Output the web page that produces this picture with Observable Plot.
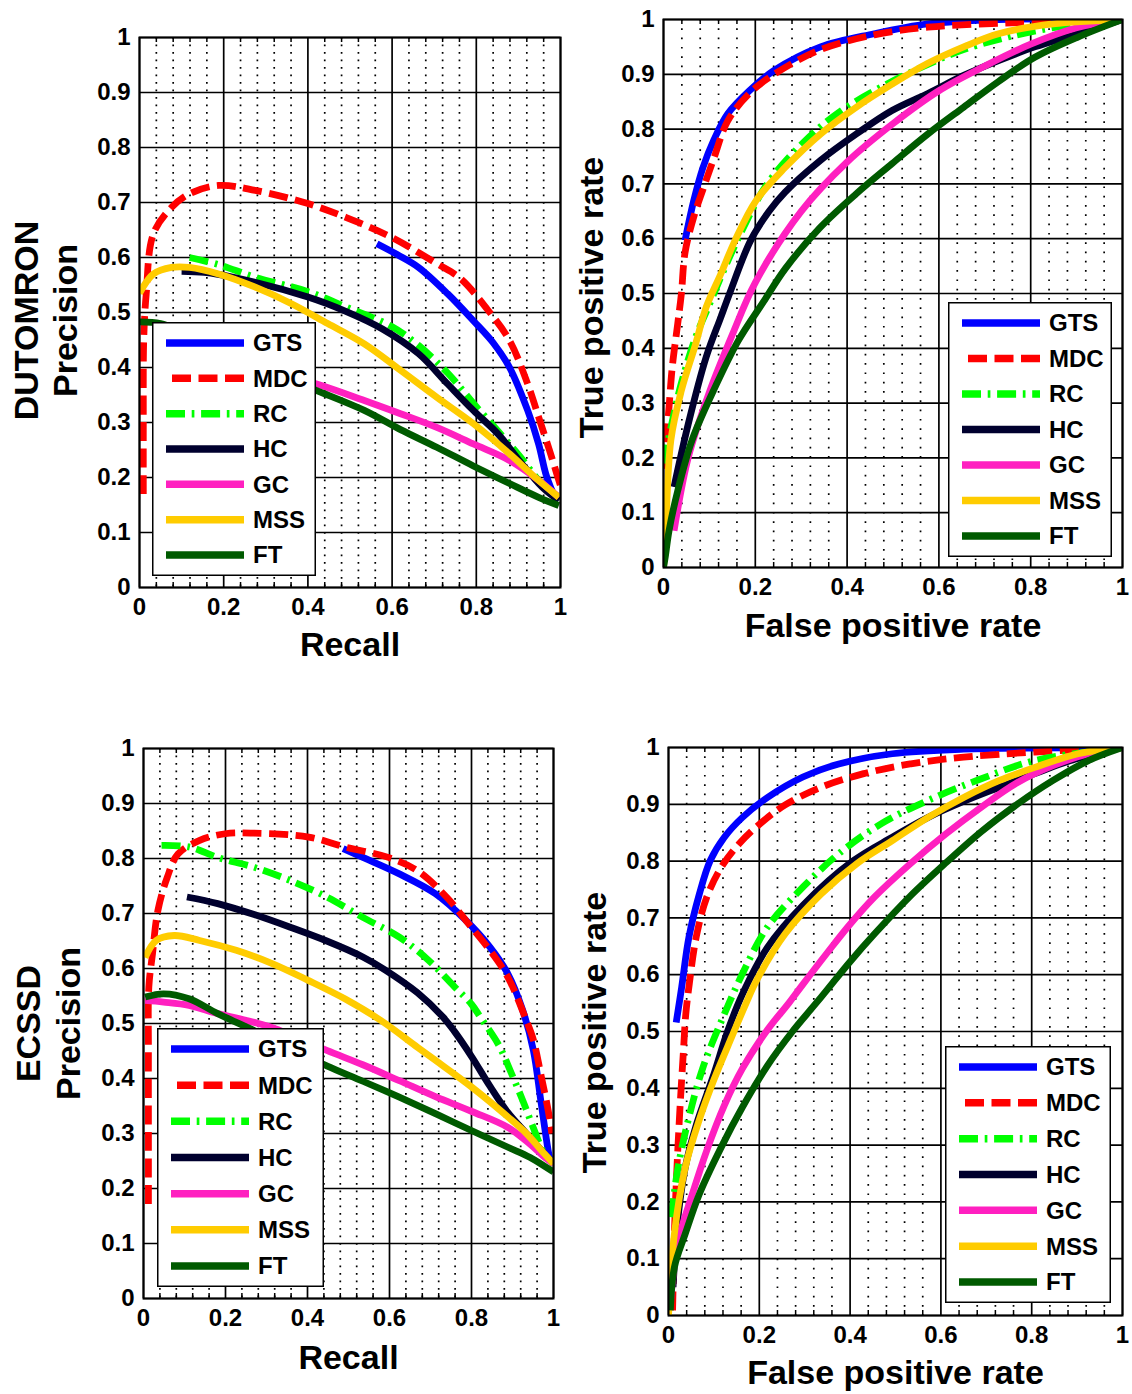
<!DOCTYPE html>
<html><head><meta charset="utf-8">
<script src="https://cdn.jsdelivr.net/npm/d3@7"></script>
<script src="https://cdn.jsdelivr.net/npm/@observablehq/plot@0.6"></script>
<style>
body{margin:0;background:#fff;}
#root{position:relative;width:1132px;height:1394px;overflow:hidden;background:#fff;font-family:"Liberation Sans",Arial,sans-serif;}
#root > svg{position:absolute;}
</style></head><body><div id="root"></div>
<script>
// ---------- categories & styles ----------
const methods = ["GTS","MDC","RC","HC","GC","MSS","FT"];
const colors  = ["#0000ff","#ff0000","#00ff00","#00002e","#ff20c0","#ffcc00","#005a00"];
const dashes  = [null,"19,7.5","19,6.7,2.7,6.7",null,null,null,null];

// ---------- tick values ----------
const xMajor = [0,0.2,0.4,0.6,0.8,1];
const yMajor = [0,0.1,0.2,0.3,0.4,0.5,0.6,0.7,0.8,0.9,1];
const xMinor = [0.04,0.08,0.12,0.16,0.24,0.28,0.32,0.36,0.44,0.48,0.52,0.56,0.64,0.68,0.72,0.76,0.84,0.88,0.92,0.96];

// ---------- DUTOMRON precision-recall [recall, precision] ----------
const dutPR_GTS = [[0.564,0.625],[0.613,0.605],[0.663,0.582],[0.732,0.534],[0.793,0.485],[0.84,0.445],[0.879,0.4],[0.922,0.322],[0.948,0.261],[0.965,0.207],[0.982,0.172]];
const dutPR_MDC = [[0.009,0.17],[0.009,0.3],[0.01,0.45],[0.016,0.534],[0.033,0.643],[0.076,0.691],[0.119,0.716],[0.188,0.731],[0.275,0.722],[0.4,0.698],[0.49,0.673],[0.598,0.637],[0.706,0.589],[0.762,0.562],[0.827,0.505],[0.879,0.449],[0.922,0.37],[0.948,0.31],[0.974,0.249],[0.991,0.207],[1.0,0.185]];
const dutPR_RC  = [[0.119,0.6],[0.188,0.587],[0.275,0.564],[0.4,0.538],[0.49,0.51],[0.598,0.475],[0.663,0.44],[0.732,0.39],[0.793,0.335],[0.853,0.283],[0.905,0.237],[0.948,0.195],[0.996,0.158]];
const dutPR_HC  = [[0.1,0.575],[0.154,0.573],[0.223,0.564],[0.4,0.528],[0.49,0.502],[0.577,0.47],[0.663,0.425],[0.732,0.37],[0.793,0.322],[0.853,0.278],[0.905,0.228],[0.957,0.182],[0.996,0.158]];
const dutPR_GC  = [[0.04,0.44],[0.1,0.43],[0.2,0.41],[0.3,0.395],[0.421,0.37],[0.534,0.34],[0.62,0.316],[0.706,0.291],[0.793,0.261],[0.879,0.231],[0.948,0.195],[0.996,0.164]];
const dutPR_MSS = [[0.0,0.535],[0.033,0.57],[0.076,0.582],[0.119,0.582],[0.188,0.57],[0.275,0.546],[0.361,0.516],[0.447,0.48],[0.534,0.443],[0.62,0.395],[0.706,0.346],[0.793,0.298],[0.879,0.243],[0.94,0.2],[0.996,0.164]];
const dutPR_FT  = [[0.0,0.483],[0.05,0.48],[0.1,0.465],[0.2,0.43],[0.3,0.395],[0.421,0.358],[0.534,0.322],[0.62,0.287],[0.706,0.255],[0.793,0.221],[0.879,0.189],[0.948,0.164],[0.996,0.149]];

// ---------- DUTOMRON ROC [fpr, tpr] ----------
const dutROC_GTS = [[0.047,0.597],[0.066,0.67],[0.086,0.73],[0.109,0.779],[0.14,0.828],[0.187,0.87],[0.241,0.907],[0.342,0.95],[0.459,0.974],[0.576,0.992],[0.73,1.0],[1.0,1.0]];
const dutROC_MDC = [[0.003,0.18],[0.006,0.232],[0.012,0.292],[0.019,0.365],[0.031,0.445],[0.039,0.5],[0.047,0.575],[0.066,0.64],[0.086,0.69],[0.109,0.745],[0.14,0.815],[0.187,0.865],[0.241,0.9],[0.342,0.945],[0.459,0.972],[0.576,0.986],[0.73,0.993],[1.0,1.0]];
const dutROC_RC  = [[0.0,0.19],[0.02,0.27],[0.04,0.34],[0.07,0.42],[0.1,0.48],[0.13,0.54],[0.171,0.615],[0.226,0.7],[0.304,0.775],[0.381,0.83],[0.482,0.88],[0.576,0.918],[0.654,0.945],[0.77,0.972],[0.887,0.99],[1.0,1.0]];
const dutROC_HC  = [[0.023,0.147],[0.054,0.262],[0.093,0.384],[0.125,0.457],[0.144,0.5],[0.19,0.597],[0.23,0.65],[0.265,0.685],[0.342,0.743],[0.42,0.791],[0.498,0.834],[0.576,0.865],[0.654,0.898],[0.73,0.925],[0.809,0.95],[0.903,0.974],[1.0,1.0]];
const dutROC_GC  = [[0.023,0.067],[0.054,0.201],[0.1,0.32],[0.15,0.425],[0.2,0.52],[0.3,0.65],[0.4,0.74],[0.5,0.81],[0.6,0.87],[0.7,0.915],[0.8,0.955],[0.9,0.985],[1.0,1.0]];
const dutROC_MSS = [[0.0,0.0],[0.004,0.05],[0.016,0.232],[0.039,0.323],[0.07,0.408],[0.093,0.475],[0.125,0.536],[0.156,0.597],[0.202,0.67],[0.265,0.73],[0.342,0.791],[0.42,0.84],[0.498,0.882],[0.576,0.92],[0.654,0.95],[0.73,0.974],[0.848,0.992],[1.0,1.0]];
const dutROC_FT  = [[0.0,0.0],[0.004,0.02],[0.012,0.067],[0.031,0.14],[0.062,0.232],[0.109,0.323],[0.163,0.414],[0.218,0.485],[0.265,0.545],[0.342,0.621],[0.42,0.682],[0.498,0.737],[0.576,0.791],[0.654,0.84],[0.73,0.887],[0.809,0.931],[0.903,0.968],[1.0,1.0]];

// ---------- ECSSD precision-recall ----------
const ecPR_GTS = [[0.487,0.818],[0.535,0.802],[0.624,0.772],[0.712,0.736],[0.783,0.69],[0.845,0.639],[0.889,0.59],[0.925,0.524],[0.951,0.451],[0.969,0.36],[0.987,0.269],[0.991,0.255]];
const ecPR_MDC = [[0.012,0.172],[0.012,0.3],[0.012,0.45],[0.013,0.566],[0.022,0.627],[0.035,0.705],[0.058,0.766],[0.084,0.808],[0.137,0.833],[0.199,0.845],[0.27,0.846],[0.403,0.839],[0.491,0.821],[0.597,0.802],[0.668,0.778],[0.739,0.73],[0.792,0.682],[0.845,0.633],[0.889,0.584],[0.934,0.505],[0.951,0.47],[0.969,0.408],[0.987,0.342],[0.996,0.3]];
const ecPR_RC  = [[0.044,0.824],[0.111,0.821],[0.181,0.802],[0.27,0.784],[0.358,0.76],[0.447,0.73],[0.535,0.693],[0.624,0.657],[0.695,0.615],[0.757,0.568],[0.8,0.535],[0.823,0.51],[0.867,0.46],[0.897,0.41],[0.925,0.36],[0.951,0.31],[0.978,0.263],[1.0,0.245]];
const ecPR_HC  = [[0.106,0.73],[0.181,0.718],[0.27,0.698],[0.358,0.675],[0.447,0.65],[0.535,0.621],[0.588,0.598],[0.668,0.556],[0.73,0.512],[0.757,0.487],[0.801,0.439],[0.845,0.386],[0.889,0.338],[0.934,0.3],[0.978,0.263],[1.0,0.245]];
const ecPR_GC  = [[0.004,0.542],[0.049,0.539],[0.111,0.533],[0.181,0.518],[0.27,0.502],[0.323,0.49],[0.447,0.451],[0.535,0.425],[0.624,0.396],[0.712,0.367],[0.801,0.34],[0.889,0.311],[0.942,0.281],[0.978,0.257],[1.0,0.245]];
const ecPR_MSS = [[0.004,0.62],[0.031,0.651],[0.075,0.66],[0.137,0.651],[0.226,0.633],[0.314,0.609],[0.403,0.578],[0.491,0.545],[0.58,0.505],[0.668,0.457],[0.712,0.433],[0.801,0.384],[0.889,0.33],[0.934,0.3],[0.978,0.263],[1.0,0.245]];
const ecPR_FT  = [[0.004,0.548],[0.049,0.554],[0.111,0.545],[0.181,0.518],[0.27,0.487],[0.358,0.455],[0.447,0.423],[0.535,0.395],[0.624,0.366],[0.712,0.336],[0.801,0.305],[0.889,0.275],[0.942,0.257],[1.0,0.23]];

// ---------- ECSSD ROC ----------
const ecROC_GTS = [[0.017,0.516],[0.029,0.578],[0.045,0.666],[0.068,0.742],[0.092,0.801],[0.123,0.842],[0.163,0.877],[0.218,0.912],[0.296,0.948],[0.375,0.971],[0.493,0.989],[0.65,0.997],[1.0,1.0]];
const ecROC_MDC = [[0.009,0.009],[0.013,0.144],[0.017,0.232],[0.025,0.361],[0.033,0.467],[0.038,0.53],[0.046,0.585],[0.061,0.666],[0.084,0.736],[0.116,0.789],[0.155,0.83],[0.202,0.866],[0.257,0.899],[0.336,0.93],[0.43,0.954],[0.532,0.971],[0.65,0.983],[0.807,0.992],[1.0,1.0]];
const ecROC_RC  = [[0.006,0.173],[0.021,0.261],[0.045,0.349],[0.076,0.437],[0.12,0.525],[0.163,0.602],[0.218,0.684],[0.296,0.754],[0.375,0.813],[0.469,0.866],[0.572,0.907],[0.689,0.945],[0.807,0.977],[1.0,1.0]];
const ecROC_HC  = [[0.01,0.05],[0.021,0.173],[0.037,0.261],[0.061,0.335],[0.1,0.425],[0.13,0.5],[0.163,0.566],[0.218,0.648],[0.296,0.722],[0.406,0.8],[0.493,0.842],[0.572,0.877],[0.65,0.905],[0.729,0.93],[0.807,0.954],[0.886,0.977],[1.0,1.0]];
const ecROC_GC  = [[0.005,0.03],[0.021,0.13],[0.053,0.215],[0.084,0.29],[0.123,0.37],[0.163,0.435],[0.218,0.503],[0.265,0.55],[0.296,0.583],[0.351,0.64],[0.399,0.688],[0.454,0.737],[0.532,0.795],[0.611,0.848],[0.689,0.895],[0.768,0.938],[0.847,0.968],[0.925,0.989],[1.0,1.0]];
const ecROC_MSS = [[0.0,0.0],[0.002,0.026],[0.013,0.144],[0.037,0.261],[0.068,0.345],[0.1,0.415],[0.139,0.49],[0.171,0.55],[0.194,0.59],[0.257,0.672],[0.336,0.742],[0.414,0.795],[0.493,0.836],[0.572,0.877],[0.65,0.912],[0.729,0.942],[0.807,0.965],[0.902,0.989],[1.0,1.0]];
const ecROC_FT  = [[0.004,0.009],[0.013,0.085],[0.037,0.144],[0.068,0.214],[0.116,0.296],[0.163,0.367],[0.218,0.44],[0.273,0.5],[0.32,0.545],[0.351,0.575],[0.399,0.622],[0.454,0.672],[0.532,0.738],[0.611,0.797],[0.689,0.852],[0.768,0.9],[0.847,0.942],[0.925,0.977],[1.0,1.0]];

// ---------- panels ----------
const panels = [
  {left:0, top:0, width:570, height:680, mt:37, mr:10, mb:93, ml:139, gap:5.8,
   series:[dutPR_GTS,dutPR_MDC,dutPR_RC,dutPR_HC,dutPR_GC,dutPR_MSS,dutPR_FT],
   xLabel:"Recall", xLabelDy:58, yLabels:[["DUTOMRON",-112],["Precision",-73]], yLabelDy:8,
   legend:{left:152, top:322, w:164, h:254}},
  {left:570, top:0, width:562, height:680, mt:19, mr:10, mb:113, ml:93, gap:7.6,
   series:[dutROC_GTS,dutROC_MDC,dutROC_RC,dutROC_HC,dutROC_GC,dutROC_MSS,dutROC_FT],
   xLabel:"False positive rate", xLabelDy:59, yLabels:[["True positive rate",-71]], yLabelDy:4,
   legend:{left:948, top:302, w:164, h:255}},
  {left:0, top:690, width:570, height:704, mt:58, mr:17, mb:96, ml:143, gap:5.8,
   series:[ecPR_GTS,ecPR_MDC,ecPR_RC,ecPR_HC,ecPR_GC,ecPR_MSS,ecPR_FT],
   xLabel:"Recall", xLabelDy:60, yLabels:[["ECSSD",-114],["Precision",-74]], yLabelDy:0,
   legend:{left:157, top:1028, w:167, h:259}},
  {left:570, top:690, width:562, height:704, mt:57, mr:10, mb:79, ml:98, gap:7.6,
   series:[ecROC_GTS,ecROC_MDC,ecROC_RC,ecROC_HC,ecROC_GC,ecROC_MSS,ecROC_FT],
   xLabel:"False positive rate", xLabelDy:58, yLabels:[["True positive rate",-73]], yLabelDy:1,
   legend:{left:945, top:1046, w:166, h:257}}
];

const root = document.getElementById("root");
const font = "'Liberation Sans', Arial, Helvetica, sans-serif";

for (const p of panels) {
  const innerH = p.height - p.mt - p.mb;
  const lineMarks = p.series.map((s, i) => Plot.line(s, {
    x: d => d[0], y: d => d[1], stroke: colors[i], strokeWidth: 6.8,
    strokeDasharray: dashes[i] || undefined, strokeLinecap: "butt", strokeLinejoin: "round",
    curve: "catmull-rom", clip: true
  }));
  const chart = Plot.plot({
    width: p.width, height: p.height,
    marginTop: p.mt, marginRight: p.mr, marginBottom: p.mb, marginLeft: p.ml,
    x: {domain: [0, 1]}, y: {domain: [0, 1]},
    style: {fontFamily: font, fontSize: "24px", fontWeight: "bold", color: "#000", background: "transparent", overflow: "visible"},
    marks: [
      Plot.ruleX(xMinor, {stroke: "#000", strokeWidth: 1.7, strokeDasharray: `1.7,${p.gap}`}),
      Plot.ruleX(xMajor, {stroke: "#000", strokeWidth: 1.7}),
      Plot.ruleY(yMajor, {stroke: "#000", strokeWidth: 1.7}),
      Plot.tickX(xMinor, {stroke: "#000", strokeWidth: 1.5, insetTop: innerH - 5}),
      Plot.tickX(xMinor, {stroke: "#000", strokeWidth: 1.5, insetBottom: innerH - 5}),
      ...lineMarks,
      Plot.frame({stroke: "#000", strokeWidth: 2}),
      Plot.axisX({ticks: xMajor, tickSize: 0, tickPadding: 10, tickFormat: d => String(d), label: null,
        fontSize: 24, fontWeight: "bold", fontFamily: font}),
      Plot.axisY({ticks: yMajor, tickSize: 0, tickPadding: 9, tickFormat: d => String(d), label: null,
        fontSize: 24, fontWeight: "bold", fontFamily: font}),
      Plot.text([p.xLabel], {text: d => d, frameAnchor: "bottom", dy: p.xLabelDy, textAnchor: "middle", lineAnchor: "middle",
        fontSize: 34, fontWeight: "bold", fontFamily: font}),
      ...p.yLabels.map(([t, dx]) => Plot.text([t], {text: d => d, frameAnchor: "left", dx, dy: p.yLabelDy, rotate: -90,
        textAnchor: "middle", lineAnchor: "middle", fontSize: 34, fontWeight: "bold", fontFamily: font}))
    ]
  });
  chart.style.left = p.left + "px";
  chart.style.top = p.top + "px";
  root.appendChild(chart);

  // legend overlay
  const L = p.legend;
  const step = (L.h - 42) / 6;
  const svg = d3.create("svg").attr("width", L.w).attr("height", L.h)
    .style("left", L.left + "px").style("top", L.top + "px").style("position", "absolute");
  svg.append("rect").attr("x", 0.75).attr("y", 0.75).attr("width", L.w - 1.5).attr("height", L.h - 1.5)
    .attr("fill", "#fff").attr("stroke", "#000").attr("stroke-width", 1.5);
  methods.forEach((m, i) => {
    const cy = 21 + i * step;
    const ln = svg.append("line").attr("y1", cy).attr("y2", cy)
      .attr("stroke", colors[i]).attr("stroke-width", 7.5).attr("stroke-linecap", "butt");
    if (i === 1) ln.attr("x1", 92).attr("x2", 14); else ln.attr("x1", 14).attr("x2", 92);
    if (dashes[i]) ln.attr("stroke-dasharray", dashes[i]);
    svg.append("text").attr("x", 101).attr("y", cy).attr("dy", "0.35em")
      .attr("font-family", font).attr("font-size", 24).attr("font-weight", "bold").text(m);
  });
  root.appendChild(svg.node());
}
</script></body></html>
